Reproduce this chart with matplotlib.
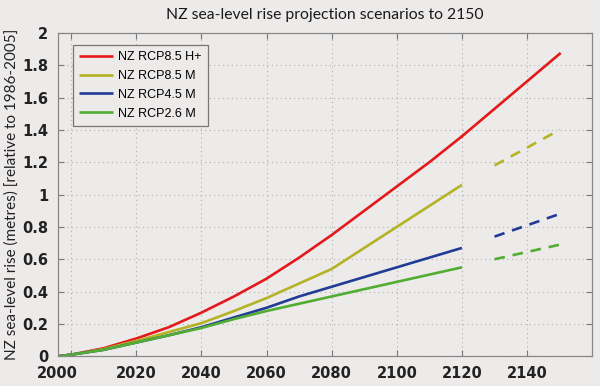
import matplotlib
matplotlib.use("Agg")
import matplotlib.pyplot as plt
import matplotlib.transforms as mtransforms

# years for the continuous (solid) part of the projections
years = [1996, 2000, 2010, 2020, 2030, 2040, 2050, 2060, 2070, 2080, 2090, 2100, 2110, 2120]
rcp85_hplus = [0.0, 0.01, 0.05, 0.11, 0.18, 0.27, 0.37, 0.48, 0.61, 0.75, 0.90, 1.05, 1.20, 1.36]
rcp85_m = [0.0, 0.01, 0.045, 0.095, 0.15, 0.205, 0.28, 0.36, 0.45, 0.54, 0.67, 0.80, 0.93, 1.06]
rcp45_m = [0.0, 0.01, 0.04, 0.085, 0.13, 0.18, 0.24, 0.30, 0.37, 0.43, 0.49, 0.55, 0.61, 0.67]
rcp26_m = [0.0, 0.01, 0.04, 0.085, 0.13, 0.175, 0.23, 0.28, 0.325, 0.37, 0.415, 0.46, 0.505, 0.55]

# extension beyond 2120
ext_years = [2120, 2130, 2140, 2150]
rcp85_hplus_ext = [1.36, 1.53, 1.70, 1.87]
dash_years = [2130, 2140, 2150]
rcp85_m_ext = [1.18, 1.29, 1.40]
rcp45_m_ext = [0.74, 0.81, 0.88]
rcp26_m_ext = [0.60, 0.645, 0.69]

labels = ["NZ RCP8.5 H+", "NZ RCP8.5 M", "NZ RCP4.5 M", "NZ RCP2.6 M"]
colors = ["#e3191c", "#b3b325", "#213c96", "#52ad33"]

xticks = [2000, 2020, 2040, 2060, 2080, 2100, 2120, 2140]
yticks = [0, 0.2, 0.4, 0.6, 0.8, 1, 1.2, 1.4, 1.6, 1.8, 2]
ytick_labels = ["0", "0.2", "0.4", "0.6", "0.8", "1", "1.2", "1.4", "1.6", "1.8", "2"]

bg = "#edeaea"
fig = plt.figure(figsize=(6, 3.86), dpi=100, facecolor=bg)
ax = fig.add_axes([0.097, 0.077, 0.89, 0.838])
ax.set_facecolor(bg)

lw = 1.9
series = [rcp85_hplus, rcp85_m, rcp45_m, rcp26_m]
for vals, lab, c in zip(series, labels, colors):
    ax.plot(years, vals, color=c, lw=lw, label=lab, solid_capstyle="butt")

ax.plot(ext_years, rcp85_hplus_ext, color=colors[0], lw=lw)
for vals, c in zip([rcp85_m_ext, rcp45_m_ext, rcp26_m_ext], colors[1:]):
    ax.plot(dash_years, vals, color=c, lw=lw, dashes=(4, 3))

ax.set_xlim(1996, 2160)
ax.set_ylim(0, 2)
ax.set_xticks(xticks)
ax.set_xticklabels([str(x) for x in xticks], family="Liberation Sans Narrow",
                   fontsize=10.5, fontweight="bold", color="#222222")
ax.set_yticks(yticks)
ax.set_yticklabels(ytick_labels, family="Liberation Sans Narrow",
                   fontsize=10.5, fontweight="bold", color="#222222")
ax.tick_params(direction="in", length=4, width=0.8, color="#777777",
               top=True, right=True, pad=7)
ax.tick_params(axis="x", pad=7)

# the first year label sits at the left edge of the axes in the original
first = ax.get_xticklabels()[0]
first.set_transform(first.get_transform() +
                    mtransforms.ScaledTranslation(-14 / 100, 0, fig.dpi_scale_trans))

ax.grid(True, linestyle=(0, (1, 3)), color="#b0b0b0", lw=0.8)
for s in ax.spines.values():
    s.set_color("#888888")
    s.set_linewidth(0.9)

ax.set_title("NZ sea-level rise projection scenarios to 2150", family="Lato",
             fontsize=11.3, color="#1a1a1a", pad=10)
ax.set_ylabel("NZ sea-level rise (metres) [relative to 1986-2005]", family="Lato",
              fontsize=11, color="#222222")
ax.yaxis.set_label_coords(-0.073, 0.5)

leg = ax.legend(loc="upper left", bbox_to_anchor=(0.028, 0.963), fancybox=False,
                frameon=True, prop={"family": "Liberation Sans", "size": 9},
                handlelength=2.7, handletextpad=0.4, labelspacing=0.55,
                borderpad=0.5, borderaxespad=0)
leg.get_frame().set_edgecolor("#777777")
leg.get_frame().set_facecolor(bg)
leg.get_frame().set_linewidth(0.9)
leg.get_frame().set_alpha(1)

fig.savefig("out.png", dpi=100, facecolor=bg)
